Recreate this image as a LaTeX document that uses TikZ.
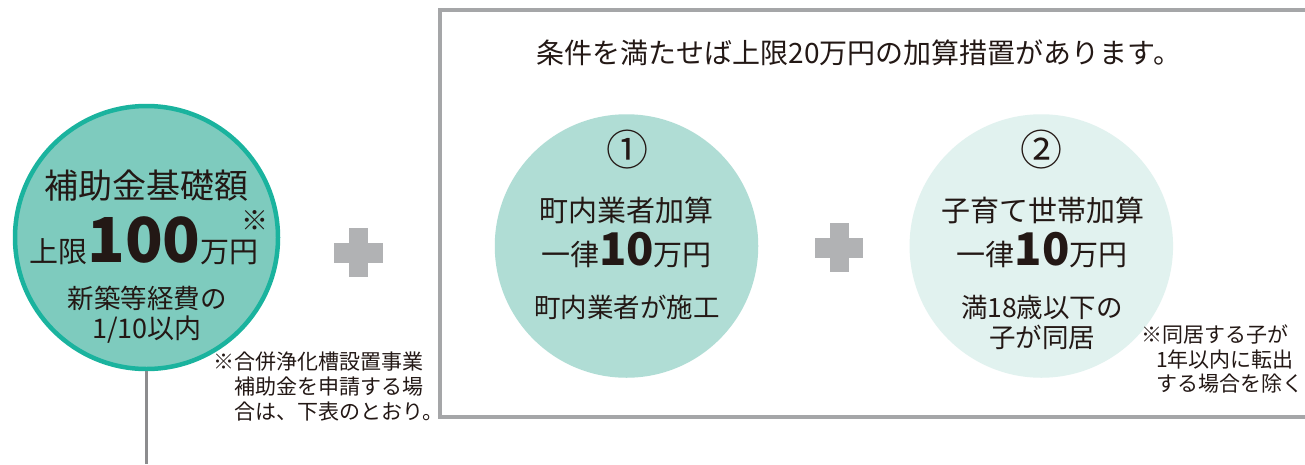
\documentclass[tikz,border=0pt]{standalone}
\usepackage{fontspec}
\setmainfont{Noto Sans CJK JP}
\definecolor{txt}{HTML}{231815}
\definecolor{ring}{HTML}{1AB39E}
\definecolor{basefill}{HTML}{7ECBBE}
\definecolor{onefill}{HTML}{B0DDD5}
\definecolor{twofill}{HTML}{E1F2EF}
\definecolor{plusgray}{HTML}{B1B2B4}
\definecolor{framegray}{HTML}{A5A6A8}
\definecolor{linegray}{HTML}{8C8C8E}
\newcommand{\fs}[1]{\fontsize{#1}{#1}\selectfont}
\tikzset{
  lbl/.style={text=txt, inner sep=0pt, align=center},
  addcircle/.style={circle, draw=none, minimum size=263.5pt, inner sep=0pt},
  plusarm/.style={fill=plusgray, draw=none, inner sep=0pt},
}
\begin{document}
\begin{tikzpicture}[x=1pt, y=-1pt]
\clip (0,0) rectangle (1305,464);
\fill[white] (0,0) rectangle (1305,464);
% frame
\draw[framegray, line width=4pt] (1310,10) -- (440,10) -- (440,417) -- (1310,417);
% base circle
\node[circle, draw=ring, fill=basefill, line width=4.5pt, minimum size=263pt, inner sep=0pt] (base) at (146.5,237.5) {};
\coordinate (lineend) at (146.5,464);
\draw[linegray, line width=3.5pt] (base.south) -- (lineend);
\node[lbl, font=\fs{34}] (basetitle) at (146.5,186) {補助金基礎額};
\node[lbl, anchor=base] (baseamount) at (144,262) {{\fs{29}上限}{\fs{62}\bfseries 100}{\fs{29}万円}};
\node[lbl, font=\fs{27}] (basemark) at (255,221) {※};
\node[lbl, font=\fs{26.5}] (basecost) at (147,298) {新築等経費の};
\node[lbl, font=\fs{27}] (baseratio) at (147,330) {1/10以内};
\node[lbl, font=\fs{21}, align=left, anchor=north west] (basenote) at (213,352)
  {※合併浄化槽設置事業\\[4pt]\hspace*{21pt}補助金を申請する場\\[4pt]\hspace*{21pt}合は、下表のとおり。};
% plus 1
\node[plusarm, minimum width=49pt, minimum height=20pt] (plusoneh) at (358.5,253) {};
\node[plusarm, minimum width=19pt, minimum height=49pt] (plusonev) at (358.5,252.5) {};
% title
\node[lbl, font=\fs{28}] (title) at (859,53) {条件を満たせば上限20万円の加算措置があります。};
% circle 1
\node[addcircle, fill=onefill] (one) at (626.5,246) {};
\node[lbl, font=\fs{42}] (onenum) at (627,150) {①};
\node[lbl, font=\fs{29}] (onename) at (626.5,210) {町内業者加算};
\node[lbl, anchor=base] (oneamount) at (626.5,265) {{\fs{29}一律}{\fs{45}\bfseries 10}{\fs{29}万円}};
\node[lbl, font=\fs{26.5}] (onecond) at (627,307) {町内業者が施工};
% plus 2
\node[plusarm, minimum width=48pt, minimum height=20pt] (plustwoh) at (839,247.5) {};
\node[plusarm, minimum width=19pt, minimum height=49pt] (plustwov) at (839,247.5) {};
% circle 2
\node[addcircle, fill=twofill] (two) at (1041.3,246) {};
\node[lbl, font=\fs{42}] (twonum) at (1041,150) {②};
\node[lbl, font=\fs{29}] (twoname) at (1043,210) {子育て世帯加算};
\node[lbl, anchor=base] (twoamount) at (1042,265) {{\fs{29}一律}{\fs{45}\bfseries 10}{\fs{29}万円}};
\node[lbl, font=\fs{26.5}, align=center] (twocond) at (1042,322) {満18歳以下の\\[3.5pt]子が同居};
\node[lbl, font=\fs{21}, align=left, anchor=north west] (twonote) at (1141,325)
  {※同居する子が\\[3.5pt]\hspace*{15pt}1年以内に転出\\[3.5pt]\hspace*{15pt}する場合を除く};
\end{tikzpicture}
\end{document}
